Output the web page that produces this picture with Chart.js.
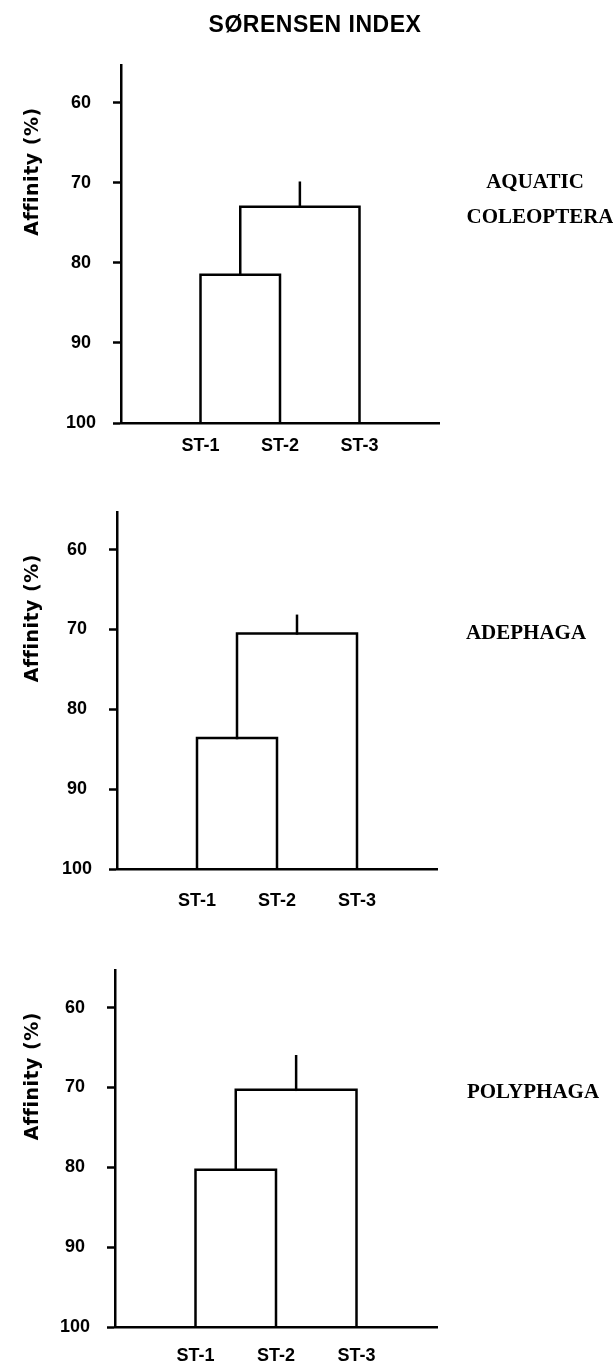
<!DOCTYPE html>
<html>
<head>
<meta charset="utf-8">
<script src="https://cdn.jsdelivr.net/npm/chart.js@4.4.1/dist/chart.umd.min.js"></script>
<style>
  body { margin: 0; background: #fff; }
  #pagina { position: relative; width: 613px; height: 1365px; }
  canvas { position: absolute; left: 0; }
</style>
</head>
<body>
<div id="pagina">
  <canvas id="painel1" width="613" height="465" style="top:0px"></canvas>
  <canvas id="painel2" width="613" height="460" style="top:465px"></canvas>
  <canvas id="painel3" width="613" height="440" style="top:925px"></canvas>
</div>
<script>
// dados
const titulo = 'SØRENSEN INDEX';
const tituloEixoY = 'Affinity (%)';
const estacoes = ['ST-1', 'ST-2', 'ST-3'];
const ticksY = [60, 70, 80, 90, 100];

// afinidade (%) onde os grupos se juntam: [ST-1+ST-2, (ST-1,ST-2)+ST-3, topo da haste]
const juncoesAquatic = [81.5, 73, 70];
const juncoesAdephaga = [83.6, 70.5, 68.3];
const juncoesPolyphaga = [80.3, 70.3, 66.1];

const nomesGrupos = [['AQUATIC', 'COLEOPTERA'], ['ADEPHAGA'], ['POLYPHAGA']];

// posicoes de cada painel (px dentro do seu canvas)
const paineis = [
  { id: 'painel1', juncoes: juncoesAquatic, esquerda: 50, eixoX: 121, topo: 65, base: 423, direita: 439, padRotulo: 12, grupoX: [535, 540], grupoY: [70, 74.4] },
  { id: 'painel2', juncoes: juncoesAdephaga, esquerda: 50, eixoX: 117, topo: 47, base: 404, direita: 437, padRotulo: 21, grupoX: [526], grupoY: [70.5] },
  { id: 'painel3', juncoes: juncoesPolyphaga, esquerda: 50, eixoX: 115, topo: 45, base: 402, direita: 437, padRotulo: 18, grupoX: [533], grupoY: [70.7] }
];

const fonteSans = '"Liberation Sans", Arial, sans-serif';

// textos desenhados por cima do grafico: titulo geral, nome do grupo, titulo do eixo
const textosPlugin = {
  id: 'textos',
  afterDraw(chart, args, opts) {
    const ctx = chart.ctx;
    const y = chart.scales.y;
    ctx.save();
    ctx.fillStyle = '#000';
    ctx.textBaseline = 'middle';
    ctx.textAlign = 'center';

    if (opts.titulo) {
      ctx.font = 'bold 23px ' + fonteSans;
      ctx.letterSpacing = '0.5px';
      ctx.fillText(titulo, 315, 26);
      ctx.letterSpacing = '0px';
    }

    ctx.font = 'bold 21px "Liberation Serif", "Times New Roman", serif';
    for (let i = 0; i < opts.linhas.length; i++) {
      ctx.fillText(opts.linhas[i], opts.grupoX[i], y.getPixelForValue(opts.grupoY[i]));
    }

    ctx.font = 'bold 19px "DejaVu Sans", ' + fonteSans;
    ctx.letterSpacing = '0.5px';
    ctx.translate(33, y.getPixelForValue(68.6));
    ctx.rotate(-Math.PI / 2);
    ctx.fillText(tituloEixoY, 0, 0);
    ctx.restore();
  }
};

function montarDendrograma(j) {
  // folhas nas posicoes 1, 2, 3 do eixo x
  const meio12 = (1 + 2) / 2;
  const meioTopo = (meio12 + 3) / 2;
  return [
    [{ x: 1, y: 100 }, { x: 1, y: j[0] }, { x: 2, y: j[0] }, { x: 2, y: 100 }],
    [{ x: meio12, y: j[0] }, { x: meio12, y: j[1] }, { x: 3, y: j[1] }, { x: 3, y: 100 }],
    [{ x: meioTopo, y: j[1] }, { x: meioTopo, y: j[2] }]
  ];
}

function plotarPainel(p, indice) {
  const canvas = document.getElementById(p.id);
  const alturaX = Math.min(p.padRotulo + 22, canvas.height - p.base);

  const dados = {
    datasets: montarDendrograma(p.juncoes).map(function (pontos) {
      return {
        data: pontos,
        showLine: true,
        borderColor: '#000',
        borderWidth: 2.5,
        pointRadius: 0,
        borderCapStyle: 'square',
        borderJoinStyle: 'miter'
      };
    })
  };

  const opcoes = {
    responsive: false,
    animation: false,
    events: [],
    layout: {
      padding: {
        left: p.esquerda,
        top: p.topo,
        right: 613 - p.direita,
        bottom: canvas.height - p.base - alturaX
      }
    },
    plugins: {
      legend: { display: false },
      tooltip: { enabled: false },
      textos: {
        titulo: indice == 0,
        linhas: nomesGrupos[indice],
        grupoX: p.grupoX,
        grupoY: p.grupoY
      }
    },
    scales: {
      x: {
        type: 'linear',
        min: 0,
        max: 4,
        afterFit: function (escala) { escala.height = alturaX; },
        afterBuildTicks: function (escala) {
          escala.ticks = estacoes.map(function (e, i) { return { value: i + 1 }; });
        },
        grid: { display: false, drawTicks: false },
        border: { display: true, color: '#000', width: 2.5 },
        ticks: {
          color: '#000',
          padding: p.padRotulo,
          maxRotation: 0,
          autoSkip: false,
          font: { family: fonteSans, size: 18, weight: 'bold' },
          callback: function (v) { return estacoes[v - 1]; }
        }
      },
      y: {
        type: 'linear',
        reverse: true,
        min: 55.3,
        max: 100,
        afterFit: function (escala) { escala.width = p.eixoX - p.esquerda; },
        afterBuildTicks: function (escala) {
          escala.ticks = ticksY.map(function (v) { return { value: v }; });
        },
        grid: {
          drawOnChartArea: false,
          drawTicks: true,
          tickLength: 8,
          tickColor: '#000',
          tickWidth: 2.5
        },
        border: { display: true, color: '#000', width: 2.5 },
        ticks: {
          color: '#000',
          crossAlign: 'center',
          padding: 17,
          font: { family: fonteSans, size: 18, weight: 'bold' }
        }
      }
    }
  };

  new Chart(canvas, { type: 'scatter', data: dados, options: opcoes, plugins: [textosPlugin] });
}

paineis.forEach(plotarPainel);
</script>
</body>
</html>
